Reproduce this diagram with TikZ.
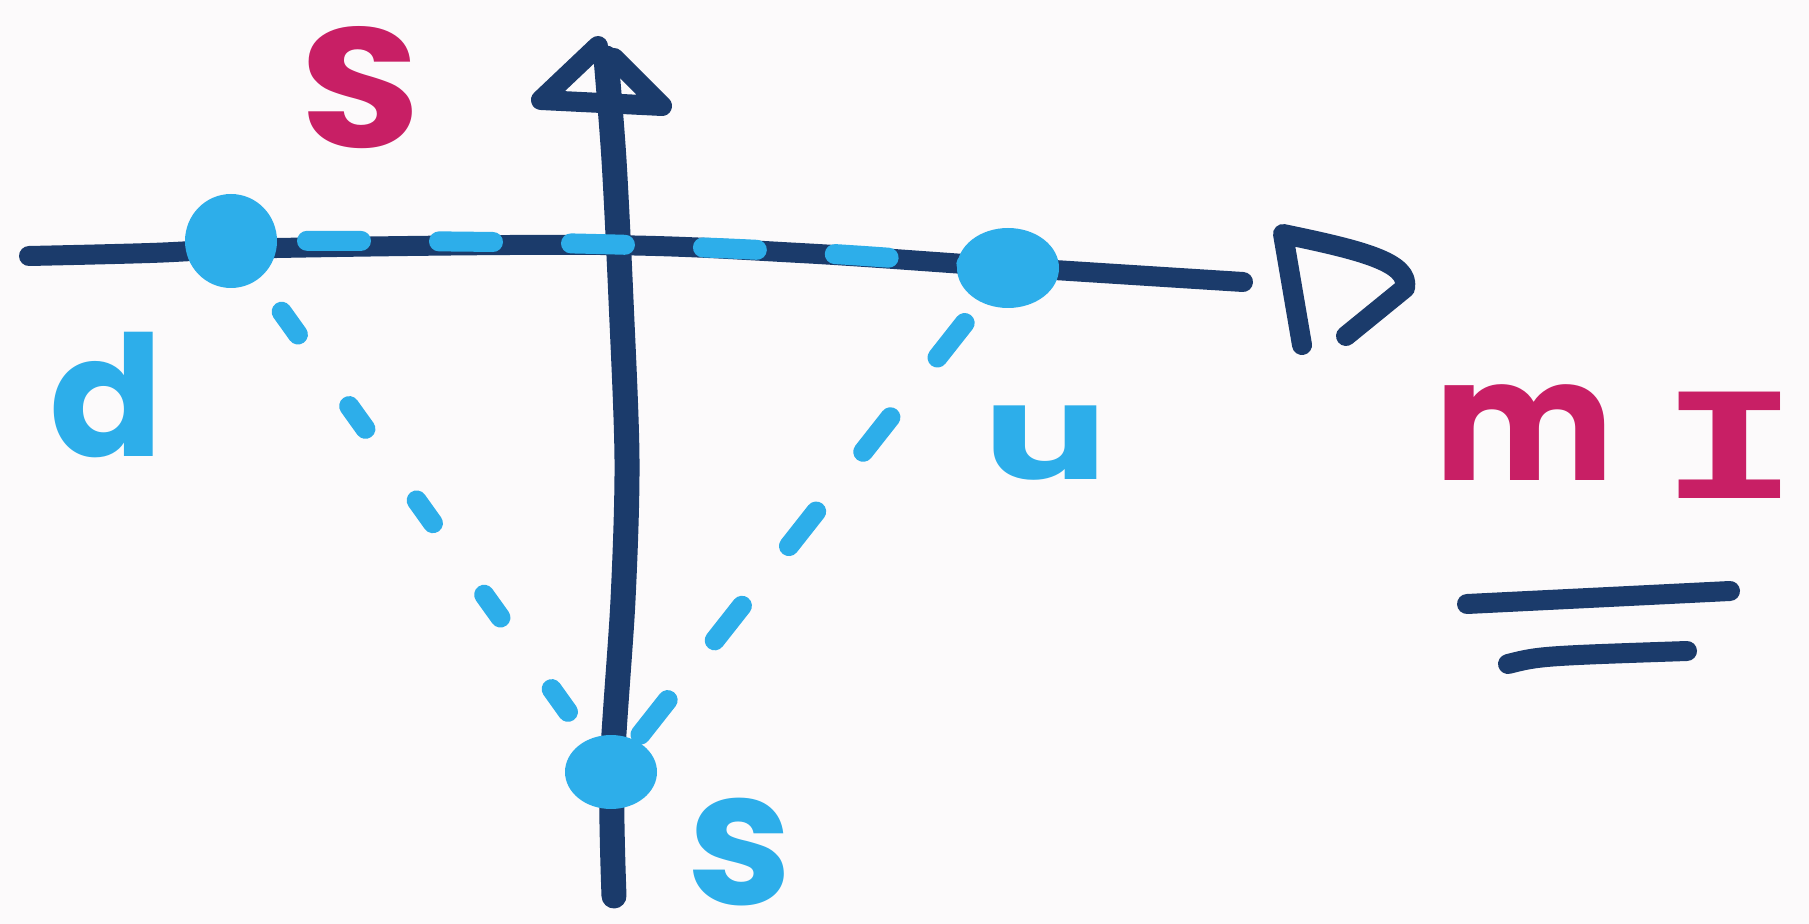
\documentclass[tikz,border=0pt]{standalone}
\usepackage{fontspec}
\setmainfont{Poppins}
\newfontfamily\monohand{DejaVu Sans Mono}
\usetikzlibrary{shapes.geometric}
\definecolor{navy}{HTML}{1B3B6B}
\definecolor{qblue}{HTML}{2DAEEA}
\definecolor{mag}{HTML}{C81F65}
\definecolor{paper}{HTML}{FCFAFB}
\begin{document}
\begin{tikzpicture}[x=0.5pt,y=-0.5pt,
  axisline/.style={draw=navy,line width=10pt,line cap=round,line join=round},
  vaxis/.style={draw=navy,line width=12.5pt,line cap=round,line join=round},
  qdash/.style={draw=qblue,line width=10pt,line cap=round},
  dot/.style={ellipse,fill=qblue,inner sep=0pt},
  qlabel/.style={text=qblue,inner sep=0pt,font=\bfseries},
  mlabel/.style={text=mag,inner sep=0pt,font=\bfseries}]
\fill[paper] (0,0) rectangle (1809,924);
\useasboundingbox (0,0) rectangle (1809,924);
% axes
\draw[axisline] plot[smooth,tension=0.6] coordinates {(29,256) (150,253) (277,248) (600,245) (800,253) (1008,267) (1243,282)};
\draw[axisline] (1302,345) -- (1283,234) .. controls (1360,250) and (1410,262) .. (1405,288) -- (1346,336);
\draw[vaxis] plot[smooth,tension=0.5] coordinates {(614,896) (612,772) (623,600) (627,460) (621,300) (614,160) (606,58)};
\draw[axisline] (598,46) -- (541,100) -- (662,106) -- (614,58);
% points
\coordinate (d) at (231,241);
\coordinate (u) at (1008,268);
\coordinate (s) at (611,772);
\draw[qdash,dash pattern=on 27pt off 39pt,dash phase=28pt] (d) .. controls (490,240) and (760,243) .. (u);
\draw[qdash,dash pattern=on 14pt off 44pt,dash phase=14.5pt] (d) -- (s);
\draw[qdash,dash pattern=on 22pt off 38pt,dash phase=25pt] (u) -- (s);
\node[dot,minimum width=46pt,minimum height=47pt] (dd) at (d) {};
\node[dot,minimum width=51pt,minimum height=40pt] (ud) at (u) {};
\node[dot,minimum width=46pt,minimum height=37pt] (sd) at (s) {};
% labels
\node[mlabel,font=\bfseries\fontsize{85}{85}\selectfont,xscale=1.15] (lS) at (361,88) {S};
\node[qlabel,font=\bfseries\fontsize{84}{84}\selectfont] (ld) at (107,395) {d};
\node[qlabel,font=\bfseries\fontsize{66}{66}\selectfont,xscale=1.4] (lu) at (1046,443) {u};
\node[qlabel,font=\bfseries\fontsize{94}{94}\selectfont] (ls) at (740,852) {s};
\node[mlabel,font=\bfseries\fontsize{85}{85}\selectfont] (lm) at (1524,433) {m};
\node[mlabel,font=\monohand\bfseries\fontsize{73}{73}\selectfont,xscale=1.6] (lI) at (1730,445) {I};
% equals strokes
\draw[axisline] (1467,604) -- (1730,591);
\draw[axisline] (1508,664) .. controls (1540,656) .. (1687,651);
\end{tikzpicture}
\end{document}
